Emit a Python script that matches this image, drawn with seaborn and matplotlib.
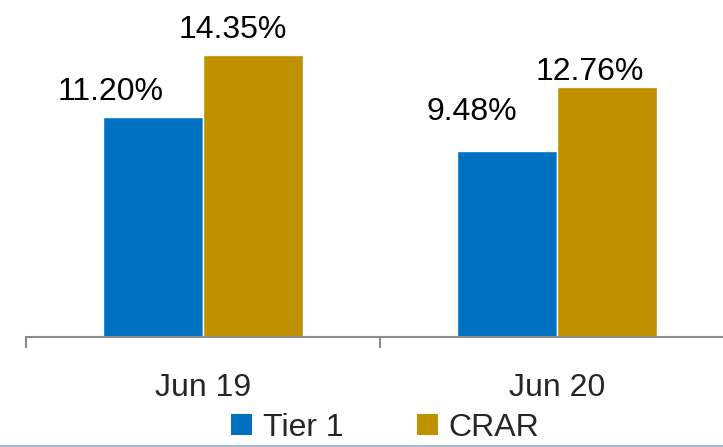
import matplotlib
matplotlib.use("Agg")
import matplotlib.pyplot as plt
import seaborn as sns
import pandas as pd
from matplotlib.lines import Line2D
from matplotlib.patches import Patch

periods = ["Jun 19", "Jun 20"]
series = ["Tier 1", "CRAR"]
tier1 = [11.20, 9.48]
crar = [14.35, 12.76]
colors = ["#0070C0", "#BF9000"]

# label offsets (pixels) relative to bar top-centre: (dx, dy)
label_offsets = {
    "Tier 1": [(-42, 17), (-35, 31)],
    "CRAR": [(-20, 17), (-17, 7)],
}

df = pd.DataFrame({
    "period": periods * 2,
    "series": [series[0]] * 2 + [series[1]] * 2,
    "value": tier1 + crar,
})

sns.set_style("white")
plt.rcParams["font.family"] = ["Liberation Sans", "DejaVu Sans"]

W, H = 723, 447
fig = plt.figure(figsize=(W / 100, H / 100), dpi=100)
ax = fig.add_axes([26 / W, (H - 337) / H, 708 / W, 16 * 19.62 / H])

sns.barplot(data=df, x="period", y="value", hue="series", order=periods,
            hue_order=series, palette=colors, width=0.565, saturation=1,
            ax=ax, legend=False)

ax.set_xlim(-0.5, 1.5)
ax.set_ylim(0, 16)
ax.set_xlabel("")
ax.set_ylabel("")
ax.set_yticks([])
for s in ["top", "right", "left"]:
    ax.spines[s].set_visible(False)
ax.spines["bottom"].set_color("#8c8c8c")
ax.spines["bottom"].set_linewidth(1.5)

ax.set_xticks([0, 1])
ax.set_xticklabels(periods, fontsize=23)
ax.tick_params(axis="x", which="major", length=0, pad=26)
ax.set_xticks([-0.5, 0.5, 1.5], minor=True)
ax.tick_params(axis="x", which="minor", bottom=True, length=8, width=1.5,
               color="#8c8c8c", direction="out")

for cont, name in zip(ax.containers, series):
    for bar, (dx, dy) in zip(cont, label_offsets[name]):
        val = bar.get_height()
        ax.annotate(f"{val:.2f}%", (bar.get_x() + bar.get_width() / 2, val),
                    xytext=(dx * 0.72, dy * 0.72), textcoords="offset points",
                    ha="center", va="baseline", fontsize=23, color="black")

handles = [Patch(facecolor=c, edgecolor="none") for c in colors]
fig.legend(handles, series, loc="lower center", bbox_to_anchor=(385 / W, 0.01),
           ncol=2, frameon=False, fontsize=23, handlelength=0.66,
           handleheight=0.66, handletextpad=0.34, columnspacing=2.3,
           borderpad=0, borderaxespad=0)

fig.add_artist(Line2D([0, 1], [1.0 / H, 1.0 / H], transform=fig.transFigure,
                      color="#A6BBD0", linewidth=1.5))

fig.savefig("out.png", dpi=100)
